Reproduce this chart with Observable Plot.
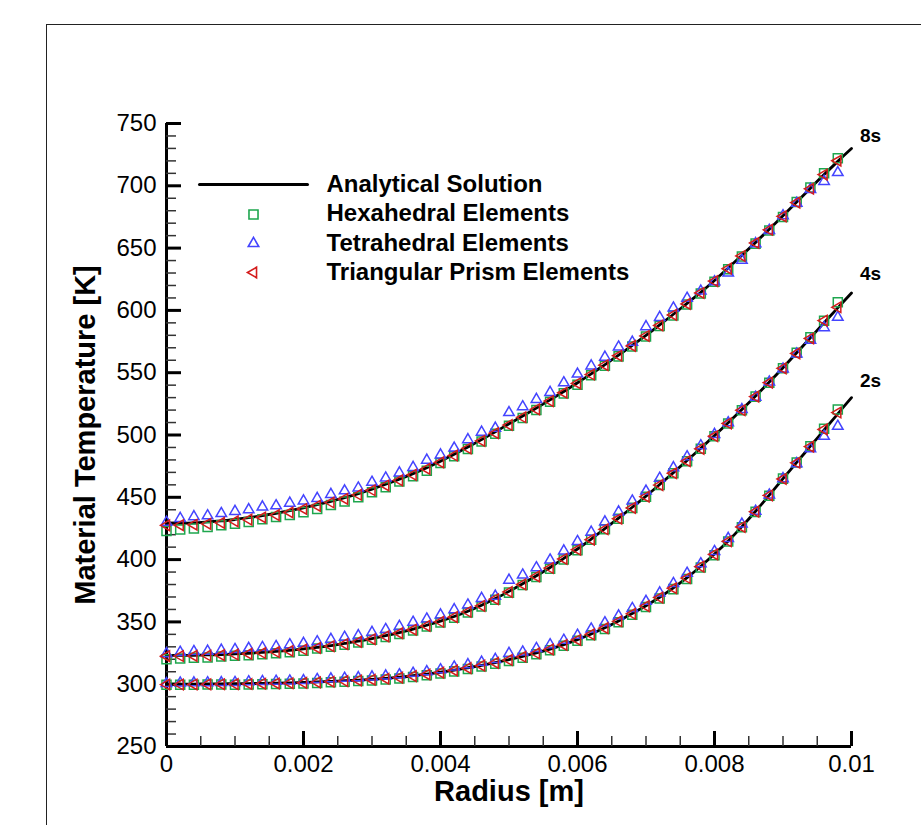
<!DOCTYPE html>
<html>
<head>
<meta charset="utf-8">
<script src="https://cdn.jsdelivr.net/npm/d3@7"></script>
<script src="https://cdn.jsdelivr.net/npm/@observablehq/plot@0.6"></script>
<style>
  html, body { margin: 0; padding: 0; background: #fff; }
  #wrap { position: relative; width: 921px; height: 825px; overflow: hidden; background: #fff; }
  #chart { position: absolute; left: 0; top: 0; }
  #frame { position: absolute; left: 46px; top: 24px; width: 1000px; height: 1000px;
           border-left: 1.5px solid #222; border-top: 1.5px solid #222; pointer-events: none; }
</style>
</head>
<body>
<div id="wrap"><div id="chart"></div><div id="frame"></div></div>
<script>
// ---------------- data ----------------
const radius = [0,0.0002,0.0004,0.0006,0.0008,0.001,0.0012,0.0014,0.0016,0.0018,0.002,0.0022,0.0024,0.0026,0.0028,0.003,0.0032,0.0034,0.0036,0.0038,0.004,0.0042,0.0044,0.0046,0.0048,0.005,0.0052,0.0054,0.0056,0.0058,0.006,0.0062,0.0064,0.0066,0.0068,0.007,0.0072,0.0074,0.0076,0.0078,0.008,0.0082,0.0084,0.0086,0.0088,0.009,0.0092,0.0094,0.0096,0.0098,0.01];

const timeLabels = ["2s", "4s", "8s"];
const seriesNames = ["Analytical Solution", "Hexahedral Elements", "Tetrahedral Elements", "Triangular Prism Elements"];

// Analytical solution (K) at each radius
const analytic2s = [300.0,300.0,300.1,300.2,300.3,300.4,300.5,300.7,300.9,301.1,301.4,301.8,302.3,302.8,303.3,303.9,304.7,305.6,306.8,308.1,309.6,311.3,313.2,315.2,317.4,319.7,322.3,325.1,328.2,331.8,335.8,340.3,345.3,350.8,356.8,363.0,369.8,377.3,385.5,394.7,404.5,415.0,426.5,438.8,451.8,465.0,478.0,491.0,504.0,517.0,530.0];
const analytic4s = [323.0,323.1,323.2,323.5,323.8,324.3,324.8,325.5,326.3,327.2,328.3,329.6,331.0,332.7,334.5,336.6,338.9,341.4,344.2,347.3,350.6,354.3,358.6,363.4,368.7,374.5,380.6,387.0,393.7,401.0,408.5,416.5,424.8,433.3,442.0,451.0,460.3,469.8,479.5,489.4,499.5,509.8,520.4,531.3,542.5,554.0,566.0,578.0,590.2,602.0,614.0];
const analytic8s = [429.0,429.1,429.5,430.2,431.0,432.2,433.6,435.3,437.2,439.3,441.6,444.1,446.8,449.7,453.0,456.6,460.5,464.6,469.0,473.8,479.0,484.5,490.3,496.3,502.5,509.0,515.2,521.6,528.2,534.9,541.9,549.0,556.5,564.1,572.0,580.0,588.4,596.9,605.7,614.5,624.0,634.0,644.2,654.6,665.2,676.0,687.0,698.1,709.0,719.6,730.0];

// Hexahedral elements
const hex2s = [299.5,299.5,299.6,299.7,299.8,299.6,299.7,299.9,300.1,300.3,300.6,301.0,301.5,302.0,302.5,302.9,303.7,304.6,305.8,307.1,308.6,310.3,312.2,314.2,316.4,318.7,321.3,324.1,327.2,330.8,334.8,339.3,344.3,349.8,355.8,362.0,368.8,376.3,384.5,393.7,403.5,414.5,426.0,438.3,451.3,465.0,478.0,491.0,505.0,520.5];
const hex4s = [320.0,320.6,321.2,321.5,322.3,322.8,323.3,324.0,324.8,325.7,326.8,328.6,330.0,331.7,333.5,335.6,337.9,340.4,343.2,346.3,349.6,353.3,357.6,362.4,367.7,373.5,379.6,386.0,392.7,400.0,407.5,416.0,424.3,432.8,441.5,450.5,459.8,469.3,479.0,488.9,499.0,509.3,519.9,530.8,542.0,553.5,566.0,578.5,591.7,606.5];
const hex8s = [423.0,424.1,425.0,426.2,427.5,428.7,430.1,432.3,434.2,435.8,438.1,440.6,443.8,446.7,450.0,454.1,458.0,462.6,467.0,471.3,477.5,483.0,488.8,494.8,501.0,507.5,513.7,520.1,526.7,533.4,540.4,548.0,555.5,563.1,571.0,579.0,587.4,595.9,604.7,613.5,623.0,633.0,643.2,653.6,664.2,675.0,687.0,698.6,710.0,722.1];

// Tetrahedral elements
const tet2s = [300.5,301.0,301.1,301.2,301.3,301.4,302.0,302.2,302.4,302.6,302.9,303.8,304.3,304.8,305.3,305.9,306.7,307.6,308.8,310.1,311.6,313.8,315.7,317.7,319.9,324.7,325.8,328.6,331.7,335.3,339.3,344.3,349.3,354.8,360.8,366.5,373.3,380.8,389.0,396.7,406.5,417.0,428.5,438.8,451.8,465.0,477.0,489.0,499.0,507.0];
const tet4s = [324.5,325.6,326.2,326.5,327.3,327.8,328.8,329.5,330.3,331.7,332.8,334.1,336.0,337.7,339.0,341.6,343.9,346.4,349.7,352.3,355.6,359.8,363.6,368.9,370.7,383.5,387.6,393.5,399.7,407.0,414.5,422.0,430.3,438.3,447.0,455.0,465.3,473.8,482.5,491.4,500.5,509.8,520.4,530.3,542.5,553.0,565.0,576.0,586.2,594.5];
const tet8s = [430.0,433.1,434.5,435.2,437.0,438.7,440.1,442.3,443.2,445.3,447.1,449.1,452.3,455.2,457.5,462.1,465.5,469.6,474.0,479.8,484.0,489.5,496.3,502.3,505.5,518.0,522.7,528.6,534.2,541.9,548.9,555.5,562.5,570.6,574.5,587.0,594.4,601.9,609.7,615.5,623.0,630.0,640.2,653.6,664.2,676.0,686.0,697.1,703.5,710.6];

// Triangular prism elements
const prism2s = [299.7,299.7,299.8,299.9,300.0,300.1,300.2,300.4,300.6,300.8,301.1,301.5,302.0,302.5,303.0,303.6,304.4,305.3,306.5,307.8,309.3,311.0,312.9,314.9,317.1,319.4,322.0,324.8,327.9,331.5,335.5,340.0,345.0,350.5,356.5,362.7,369.5,377.0,385.2,394.4,404.2,414.7,426.2,438.5,451.5,464.7,477.7,490.7,504.5,518.0];
const prism4s = [322.5,322.6,322.7,323.0,323.3,323.8,324.3,325.0,325.8,326.7,327.8,329.1,330.5,332.2,334.0,336.1,338.4,340.9,343.7,346.8,350.1,353.8,358.1,362.9,368.2,374.0,380.1,386.5,393.2,400.5,408.0,416.0,424.3,432.8,441.5,450.5,459.8,469.3,479.0,488.9,499.0,509.3,519.9,530.8,542.0,553.5,565.5,577.5,591.8,602.5];
const prism8s = [427.5,427.6,428.0,428.7,429.5,430.7,432.1,433.8,435.7,437.8,440.6,443.1,445.8,448.7,452.0,455.6,459.5,463.6,468.0,472.8,478.0,483.5,489.3,495.3,501.5,508.0,514.2,520.6,527.2,533.9,541.4,548.5,556.0,563.6,571.5,579.5,587.9,596.4,605.2,614.0,623.5,633.5,643.7,654.1,664.7,675.5,686.5,697.6,709.0,720.1];

// Axes
const xTicks = [0, 0.002, 0.004, 0.006, 0.008, 0.01];
const xTickLabels = ["0", "0.002", "0.004", "0.006", "0.008", "0.01"];
const xMinorTicks = [0.0005,0.001,0.0015,0.0025,0.003,0.0035,0.0045,0.005,0.0055,0.0065,0.007,0.0075,0.0085,0.009,0.0095];
const yTicks = [250, 300, 350, 400, 450, 500, 550, 600, 650, 700, 750];
const yTickLabels = ["250", "300", "350", "400", "450", "500", "550", "600", "650", "700", "750"];
const yMinorTicks = [260,270,280,290,310,320,330,340,360,370,380,390,410,420,430,440,460,470,480,490,510,520,530,540,560,570,580,590,610,620,630,640,660,670,680,690,710,720,730,740];
const xTitle = "Radius [m]";
const yTitle = "Material Temperature [K]";

// ---------------- tables ----------------
const analyticByTime = [analytic2s, analytic4s, analytic8s];
const lineData = [];
analyticByTime.forEach((arr, k) => arr.forEach((T, i) => lineData.push({r: radius[i], T, time: timeLabels[k]})));
function pts(arrs) {
  const out = [];
  arrs.forEach((arr, k) => arr.forEach((T, i) => out.push({r: radius[i], T, time: timeLabels[k]})));
  return out;
}
const hexData = pts([hex2s, hex4s, hex8s]);
const tetData = pts([tet2s, tet4s, tet8s]);
const prismData = pts([prism2s, prism4s, prism8s]);

// ---------------- styles ----------------
const GREEN = "#1ea64e", BLUE = "#4444ff", RED = "#d41c1c";
const FONT = "'Liberation Sans', Arial, Helvetica, sans-serif";
const leftTriangle = {
  draw(ctx, size) {
    const y = -Math.sqrt(size / (Math.sqrt(3) * 3));
    ctx.moveTo(2 * y, 0);
    ctx.lineTo(-y, Math.sqrt(3) * y);
    ctx.lineTo(-y, -Math.sqrt(3) * y);
    ctx.closePath();
  }
};
const segment = { draw(ctx, l) { ctx.moveTo(0, 0); ctx.lineTo(0, -l); } };

const symR = {sq: 5.1, tri: 3.9};
const legendMarks = [
  Plot.vector([0], {frameAnchor: "top-left", dx: 33, dy: 61, rotate: 90, length: 108, anchor: "start", shape: segment, stroke: "black", strokeWidth: 3}),
  Plot.dot([0], {frameAnchor: "top-left", dx: 87, dy: 91, symbol: "square", r: symR.sq, stroke: GREEN, strokeWidth: 1.6, fill: "none"}),
  Plot.dot([0], {frameAnchor: "top-left", dx: 87, dy: 120, symbol: "triangle", r: symR.tri, stroke: BLUE, strokeWidth: 1.6, fill: "none"}),
  Plot.dot([0], {frameAnchor: "top-left", dx: 87, dy: 149, symbol: leftTriangle, r: symR.tri, stroke: RED, strokeWidth: 1.6, fill: "none"}),
  ...seriesNames.map((name, k) => Plot.text([name], {
    frameAnchor: "top-left", dx: 160, dy: 61 + 29.2 * k, text: d => d,
    textAnchor: "start", lineAnchor: "middle", fontSize: 24, fontWeight: "bold", fill: "black"
  }))
];

const labelOffsets = [{dx: 19, dy: -17}, {dx: 19, dy: -19}, {dx: 19, dy: -13}];
const curveLabels = timeLabels.map((t, k) => Plot.text(
  [{label: t, r: radius[radius.length - 1], T: analyticByTime[k][analyticByTime[k].length - 1]}],
  {x: "r", y: "T", text: "label", dx: labelOffsets[k].dx, dy: labelOffsets[k].dy,
   fontSize: 19, fontWeight: "bold", fill: "black", textAnchor: "middle"}
));

const chart = Plot.plot({
  width: 921,
  height: 825,
  marginLeft: 166,
  marginRight: 70,
  marginTop: 123,
  marginBottom: 79,
  x: {domain: [0, 0.01]},
  y: {domain: [250, 750]},
  style: {fontFamily: FONT, background: "transparent", color: "black"},
  marks: [
    // axis lines
    Plot.ruleX([0], {stroke: "black", strokeWidth: 3}),
    Plot.ruleY([250], {stroke: "black", strokeWidth: 3}),
    // inward ticks
    Plot.axisY(yMinorTicks, {tickSize: -10, stroke: "#333", strokeWidth: 1.5, fill: "none", label: null}),
    Plot.axisY(yTicks, {tickSize: -15, stroke: "black", strokeWidth: 3, fill: "none", label: null}),
    Plot.axisX(xMinorTicks, {tickSize: -10, stroke: "#333", strokeWidth: 1.5, fill: "none", label: null}),
    Plot.axisX(xTicks, {tickSize: -15, stroke: "black", strokeWidth: 3, fill: "none", label: null}),
    // tick labels
    Plot.axisY(yTicks, {tickSize: 0, tickPadding: 10, fontSize: 24, label: null,
      tickFormat: d => yTickLabels[yTicks.indexOf(d)]}),
    Plot.axisX(xTicks, {tickSize: 0, tickPadding: 8, fontSize: 24, label: null,
      tickFormat: d => xTickLabels[xTicks.indexOf(d)]}),
    // titles
    Plot.text([xTitle], {frameAnchor: "bottom", dy: 45, text: d => d, fontSize: 29, fontWeight: "bold",
      textAnchor: "middle", lineAnchor: "middle", fill: "black"}),
    Plot.text([yTitle], {frameAnchor: "left", dx: -81, rotate: -90, text: d => d, fontSize: 29, fontWeight: "bold",
      textAnchor: "middle", lineAnchor: "middle", fill: "black"}),
    // data
    Plot.line(lineData, {x: "r", y: "T", z: "time", stroke: "black", strokeWidth: 2.8, curve: "catmull-rom"}),
    Plot.dot(hexData, {x: "r", y: "T", symbol: "square", r: symR.sq, stroke: GREEN, strokeWidth: 1.5, fill: "none"}),
    Plot.dot(tetData, {x: "r", y: "T", symbol: "triangle", r: symR.tri, stroke: BLUE, strokeWidth: 1.5, fill: "none"}),
    Plot.dot(prismData, {x: "r", y: "T", symbol: leftTriangle, r: symR.tri, stroke: RED, strokeWidth: 1.5, fill: "none"}),
    ...curveLabels,
    ...legendMarks
  ]
});
document.getElementById("chart").appendChild(chart);
</script>
</body>
</html>
